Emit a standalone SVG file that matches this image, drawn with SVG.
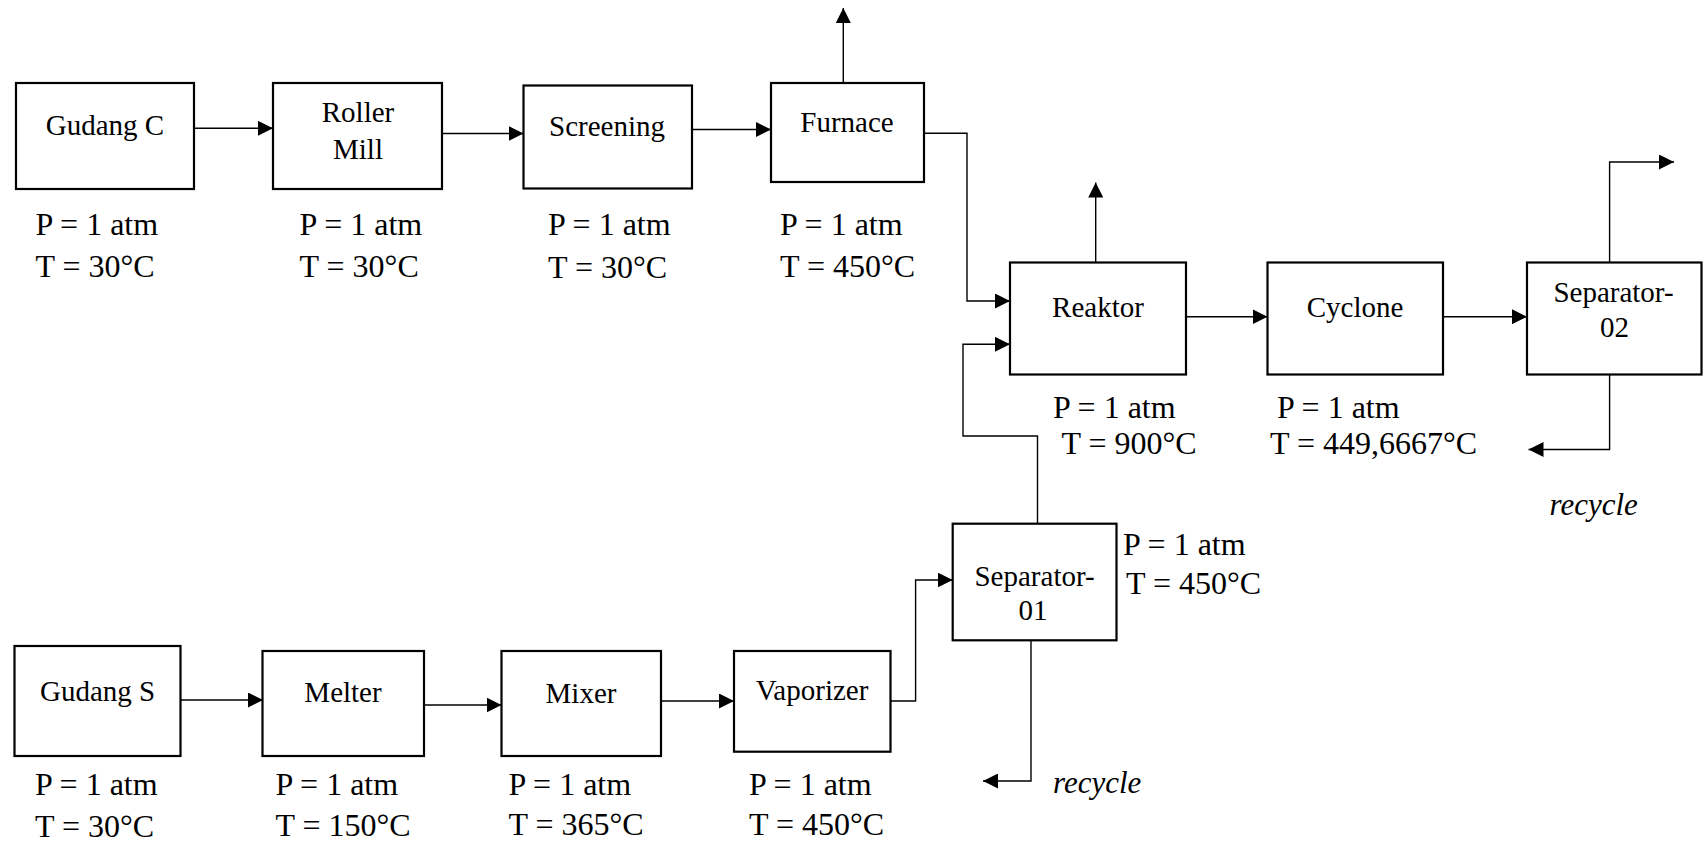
<svg xmlns="http://www.w3.org/2000/svg" width="1704" height="843" viewBox="0 0 1704 843">
<style>
.box{fill:#fff;stroke:#000;stroke-width:2.2}
.t{font-family:"Liberation Serif","Times New Roman",serif;font-size:29px;fill:#000;text-anchor:middle}
.l{font-family:"Liberation Serif","Times New Roman",serif;font-size:32px;fill:#000}
.r{font-family:"Liberation Serif","Times New Roman",serif;font-size:31px;font-style:italic;fill:#000}
.c{fill:none;stroke:#000;stroke-width:1.4;marker-end:url(#ah)}
</style>
<defs>
<marker id="ah" markerUnits="userSpaceOnUse" markerWidth="15" markerHeight="15" refX="15" refY="7.5" orient="auto">
<path d="M0,0 L15,7.5 L0,15 z" fill="#000"/>
</marker>
</defs>
<rect width="1704" height="843" fill="#fff"/>
<g id="connectors">
<path class="c" d="M194,128.3 H273"/>
<path class="c" d="M442,133.5 H523.5"/>
<path class="c" d="M692,129.5 H771"/>
<path class="c" d="M843.3,83 V8"/>
<path class="c" d="M924,133.3 H967 V301 H1010"/>
<path class="c" d="M1037.5,523.7 V436 H963 V344.3 H1010"/>
<path class="c" d="M1095.7,262.5 V182.5"/>
<path class="c" d="M1186,316.7 H1267.5"/>
<path class="c" d="M1443,316.7 H1527"/>
<path class="c" d="M1609.6,262.5 V162 H1674"/>
<path class="c" d="M1609.6,374.7 V449.5 H1528.5"/>
<path class="c" d="M180.6,700 H263"/>
<path class="c" d="M424,705 H501.5"/>
<path class="c" d="M661,701 H734"/>
<path class="c" d="M890.6,701 H915.6 V580 H952.7"/>
<path class="c" d="M1031,640.3 V781 H983"/>
</g>
<g id="gudang-c">
<rect class="box" x="16" y="83" width="178" height="106"/>
<text class="t" x="105" y="135">Gudang C</text>
<text class="l" x="35.5" y="235">P = 1 atm</text>
<text class="l" x="35.5" y="277">T = 30°C</text>
</g>
<g id="roller-mill">
<rect class="box" x="273" y="83" width="169" height="106"/>
<text class="t" x="358" y="122">Roller</text>
<text class="t" x="358" y="159">Mill</text>
<text class="l" x="299.6" y="235">P = 1 atm</text>
<text class="l" x="299.6" y="277">T = 30°C</text>
</g>
<g id="screening">
<rect class="box" x="523.5" y="85.5" width="168.5" height="103"/>
<text class="t" x="607" y="136">Screening</text>
<text class="l" x="548" y="235">P = 1 atm</text>
<text class="l" x="548" y="278">T = 30°C</text>
</g>
<g id="furnace">
<rect class="box" x="771" y="83" width="153" height="99"/>
<text class="t" x="847" y="132">Furnace</text>
<text class="l" x="780" y="235">P = 1 atm</text>
<text class="l" x="780" y="277">T = 450°C</text>
</g>
<g id="reaktor">
<rect class="box" x="1010" y="262.5" width="176" height="112"/>
<text class="t" x="1098" y="317">Reaktor</text>
<text class="l" x="1053" y="418">P = 1 atm</text>
<text class="l" x="1061.5" y="454">T = 900°C</text>
</g>
<g id="cyclone">
<rect class="box" x="1267.5" y="262.5" width="175.5" height="112"/>
<text class="t" x="1355" y="317">Cyclone</text>
<text class="l" x="1277" y="418">P = 1 atm</text>
<text class="l" x="1270" y="454">T = 449,6667°C</text>
</g>
<g id="separator-02">
<rect class="box" x="1527" y="262.5" width="174.5" height="112"/>
<text class="t" x="1613.5" y="302">Separator-</text>
<text class="t" x="1614.5" y="337">02</text>
<text class="r" x="1549.5" y="515">recycle</text>
</g>
<g id="separator-01">
<rect class="box" x="952.7" y="523.7" width="163.8" height="116.6"/>
<text class="t" x="1034.6" y="586">Separator-</text>
<text class="t" x="1033" y="620">01</text>
<text class="l" x="1123" y="555">P = 1 atm</text>
<text class="l" x="1126" y="594">T = 450°C</text>
<text class="r" x="1053" y="793">recycle</text>
</g>
<g id="gudang-s">
<rect class="box" x="14.5" y="646" width="166" height="110"/>
<text class="t" x="97.6" y="701">Gudang S</text>
<text class="l" x="35" y="795">P = 1 atm</text>
<text class="l" x="35" y="836.5">T = 30°C</text>
</g>
<g id="melter">
<rect class="box" x="262.5" y="651" width="161.5" height="105"/>
<text class="t" x="343" y="702">Melter</text>
<text class="l" x="275.5" y="795">P = 1 atm</text>
<text class="l" x="275.5" y="836">T = 150°C</text>
</g>
<g id="mixer">
<rect class="box" x="501.5" y="651" width="159.5" height="105"/>
<text class="t" x="581" y="702.5">Mixer</text>
<text class="l" x="508.5" y="794.5">P = 1 atm</text>
<text class="l" x="508.5" y="835">T = 365°C</text>
</g>
<g id="vaporizer">
<rect class="box" x="734" y="651" width="156.5" height="100.7"/>
<text class="t" x="812" y="700">Vaporizer</text>
<text class="l" x="749" y="795">P = 1 atm</text>
<text class="l" x="749" y="835">T = 450°C</text>
</g>
</svg>
